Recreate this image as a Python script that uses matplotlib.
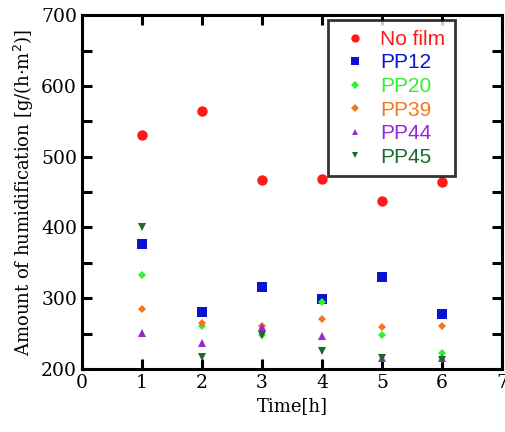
import matplotlib
matplotlib.use("Agg")
import matplotlib.pyplot as plt
from matplotlib.ticker import MultipleLocator

time_h = [1, 2, 3, 4, 5, 6]
no_film = [530, 564, 467, 469, 438, 464]
pp12 = [376, 280, 316, 299, 330, 278]
pp20 = [333, 260, 248, 295, 248, 223]
pp39 = [285, 265, 261, 271, 259, 261]
pp44 = [251, 237, 259, 247, 215, 215]
pp45 = [401, 217, 248, 225, 215, 213]

series = [
    ("No film", no_film, "o", "#ff1a1a", 7.5),
    ("PP12", pp12, "s", "#0a14cc", 7.5),
    ("PP20", pp20, "D", "#33ee33", 4.5),
    ("PP39", pp39, "D", "#f87520", 4.5),
    ("PP44", pp44, "^", "#9a28d0", 6),
    ("PP45", pp45, "v", "#1b6a2c", 6),
]

fig = plt.figure(figsize=(5.06, 4.32), dpi=100)
ax = fig.add_axes([0.162, 0.146, 0.830, 0.819])

for name, vals, m, c, ms in series:
    ax.plot(time_h, vals, linestyle="none", marker=m, color=c, markersize=ms,
            markeredgewidth=0, label=name)

ax.set_xlim(0, 7)
ax.set_ylim(200, 700)
ax.xaxis.set_major_locator(MultipleLocator(1))
ax.yaxis.set_major_locator(MultipleLocator(100))
ax.yaxis.set_minor_locator(MultipleLocator(50))
ax.tick_params(which="both", direction="in", top=True, right=True, width=2.2,
               labelsize=13.5)
ax.tick_params(which="major", length=7)
ax.tick_params(which="minor", length=7)
for s in ax.spines.values():
    s.set_linewidth(2.2)
for lab in ax.get_xticklabels() + ax.get_yticklabels():
    lab.set_family("DejaVu Serif")

ax.set_xlabel("Time[h]", family="DejaVu Serif", fontsize=13)
ax.set_ylabel("Amount of humidification [g/(h$\\cdot$m$^2$)]", family="DejaVu Serif", fontsize=13)

leg = ax.legend(loc="upper right", bbox_to_anchor=(0.888, 0.985), frameon=True,
                fancybox=False, prop={"family": "Liberation Sans", "size": 15},
                handletextpad=0.35, labelspacing=0.22, borderpad=0.45,
                handlelength=1.7, borderaxespad=0, markerscale=0.8)
leg.get_frame().set_edgecolor("black")
leg.get_frame().set_linewidth(2)
for text, (_, _, _, c, _) in zip(leg.get_texts(), series):
    text.set_color(c)

fig.savefig("out.png", dpi=100)
